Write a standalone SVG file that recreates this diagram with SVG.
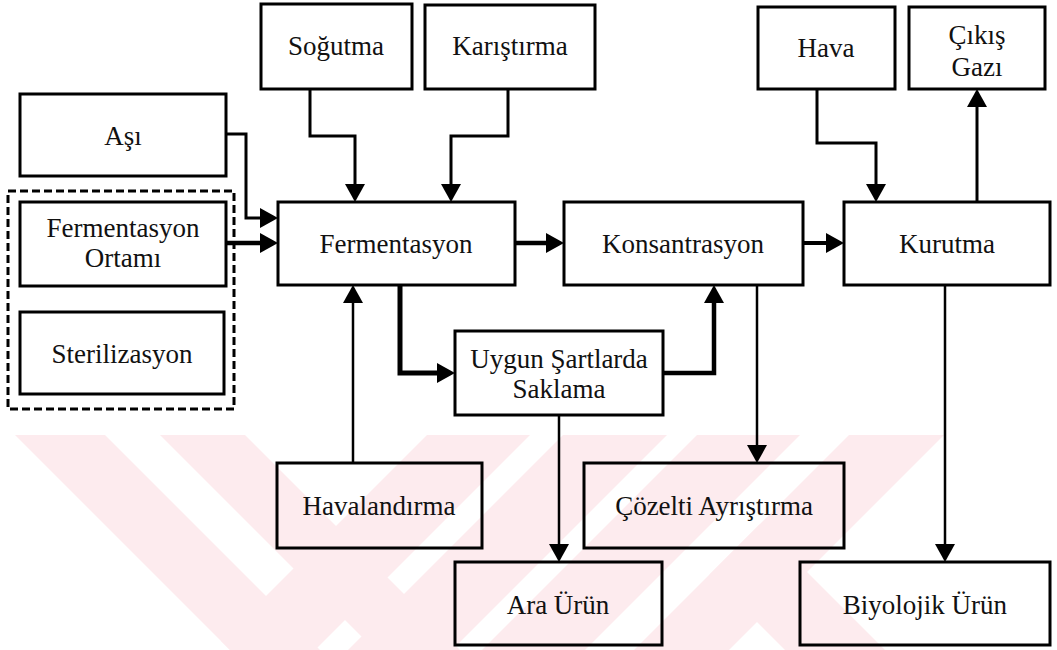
<svg xmlns="http://www.w3.org/2000/svg" width="1057" height="650" viewBox="0 0 1057 650">
<style>
.box{fill:none;stroke:#000;stroke-width:3}
.t{font-size:27px;fill:#111;text-anchor:middle}
.c{fill:none;stroke:#000;stroke-linejoin:miter}
.wm{fill:#fdebee;stroke:none}
</style>
<defs>
<marker id="ah" markerUnits="userSpaceOnUse" markerWidth="18" markerHeight="20" refX="8" refY="10" orient="auto">
<path d="M0,0 L18,10 L0,20 Z" fill="#000"/>
</marker>
<clipPath id="wmclip"><rect x="0" y="435" width="1057" height="215"/></clipPath>
</defs>
<rect width="1057" height="650" fill="#fff"/>
<g id="watermark" clip-path="url(#wmclip)">
<polygon class="wm" points="15,435 105,435 320,650 230,650"/>
<polygon class="wm" points="160,435 245,435 460,650 375,650"/>
<polygon class="wm" points="427,435 530,435 315,650 230,650 221,641"/>
<polygon class="wm" points="563,435 667,435 452,650 348,650"/>
<polygon class="wm" points="697,435 800,435 585,650 482,650"/>
<polygon class="wm" points="849,435 944,435 729,650 634,650"/>
<polygon class="wm" points="709.5,574.5 759.5,524.5 885,650 785,650"/>
</g>
<g id="connectors">
<path class="c" stroke-width="3" d="M310,89 V136 H355 V192" marker-end="url(#ah)"/>
<path class="c" stroke-width="3" d="M508,89 V136 H451 V192" marker-end="url(#ah)"/>
<path class="c" stroke-width="3" d="M226,134 H246 V218 H268" marker-end="url(#ah)"/>
<path class="c" stroke-width="4.5" d="M226,243 H268" marker-end="url(#ah)"/>
<path class="c" stroke-width="4.5" d="M515,243 H554" marker-end="url(#ah)"/>
<path class="c" stroke-width="4" d="M803,243 H834" marker-end="url(#ah)"/>
<path class="c" stroke-width="3" d="M817,89 V143 H876 V192" marker-end="url(#ah)"/>
<path class="c" stroke-width="3" d="M977,202 V99" marker-end="url(#ah)"/>
<path class="c" stroke-width="2.5" d="M945,285 V552" marker-end="url(#ah)"/>
<path class="c" stroke-width="2.5" d="M757,285 V453" marker-end="url(#ah)"/>
<path class="c" stroke-width="4.5" d="M663,373 H714 V295" marker-end="url(#ah)"/>
<path class="c" stroke-width="5" d="M400,285 V373 H445" marker-end="url(#ah)"/>
<path class="c" stroke-width="2.5" d="M353,463 V295" marker-end="url(#ah)"/>
<path class="c" stroke-width="2.5" d="M559,415 V552" marker-end="url(#ah)"/>
</g>
<g id="group-hazirlik">
<rect x="8" y="191" width="226" height="218" fill="none" stroke="#000" stroke-width="3" stroke-dasharray="8,4"/>
</g>
<g font-family="'Liberation Serif', 'DejaVu Serif', serif">
<g id="asi"><rect class="box" x="20" y="94" width="206" height="82"/><text class="t" x="123" y="145">Aşı</text></g>
<g id="fermentasyon-ortami"><rect class="box" x="20" y="202" width="206" height="84"/><text class="t" x="123" y="237">Fermentasyon</text><text class="t" x="123" y="267">Ortamı</text></g>
<g id="sterilizasyon"><rect class="box" x="20" y="312" width="204" height="82"/><text class="t" x="122" y="363">Sterilizasyon</text></g>
<g id="sogutma"><rect class="box" x="261" y="4" width="151" height="85"/><text class="t" x="336" y="55">Soğutma</text></g>
<g id="karistirma"><rect class="box" x="425" y="5" width="170" height="84"/><text class="t" x="510" y="55">Karıştırma</text></g>
<g id="fermentasyon"><rect class="box" x="278" y="202" width="237" height="83"/><text class="t" x="396" y="253">Fermentasyon</text></g>
<g id="konsantrasyon"><rect class="box" x="564" y="202" width="239" height="83"/><text class="t" x="683" y="253">Konsantrasyon</text></g>
<g id="kurutma"><rect class="box" x="844" y="202" width="206" height="83"/><text class="t" x="947" y="253">Kurutma</text></g>
<g id="hava"><rect class="box" x="758" y="7" width="137" height="82"/><text class="t" x="826" y="57">Hava</text></g>
<g id="cikis-gazi"><rect class="box" x="909" y="7" width="136" height="82"/><text class="t" x="977" y="44">Çıkış</text><text class="t" x="977" y="76">Gazı</text></g>
<g id="saklama"><rect class="box" x="455" y="331" width="208" height="84"/><text class="t" x="559" y="368">Uygun Şartlarda</text><text class="t" x="559" y="398">Saklama</text></g>
<g id="havalandirma"><rect class="box" x="277" y="463" width="205" height="85"/><text class="t" x="379" y="515">Havalandırma</text></g>
<g id="ara-urun"><rect class="box" x="455" y="562" width="207" height="83"/><text class="t" x="558" y="614">Ara Ürün</text></g>
<g id="cozelti"><rect class="box" x="584" y="463" width="260" height="85"/><text class="t" x="714" y="515">Çözelti Ayrıştırma</text></g>
<g id="biyolojik"><rect class="box" x="800" y="562" width="250" height="83"/><text class="t" x="925" y="614">Biyolojik Ürün</text></g>
</g>
</svg>
